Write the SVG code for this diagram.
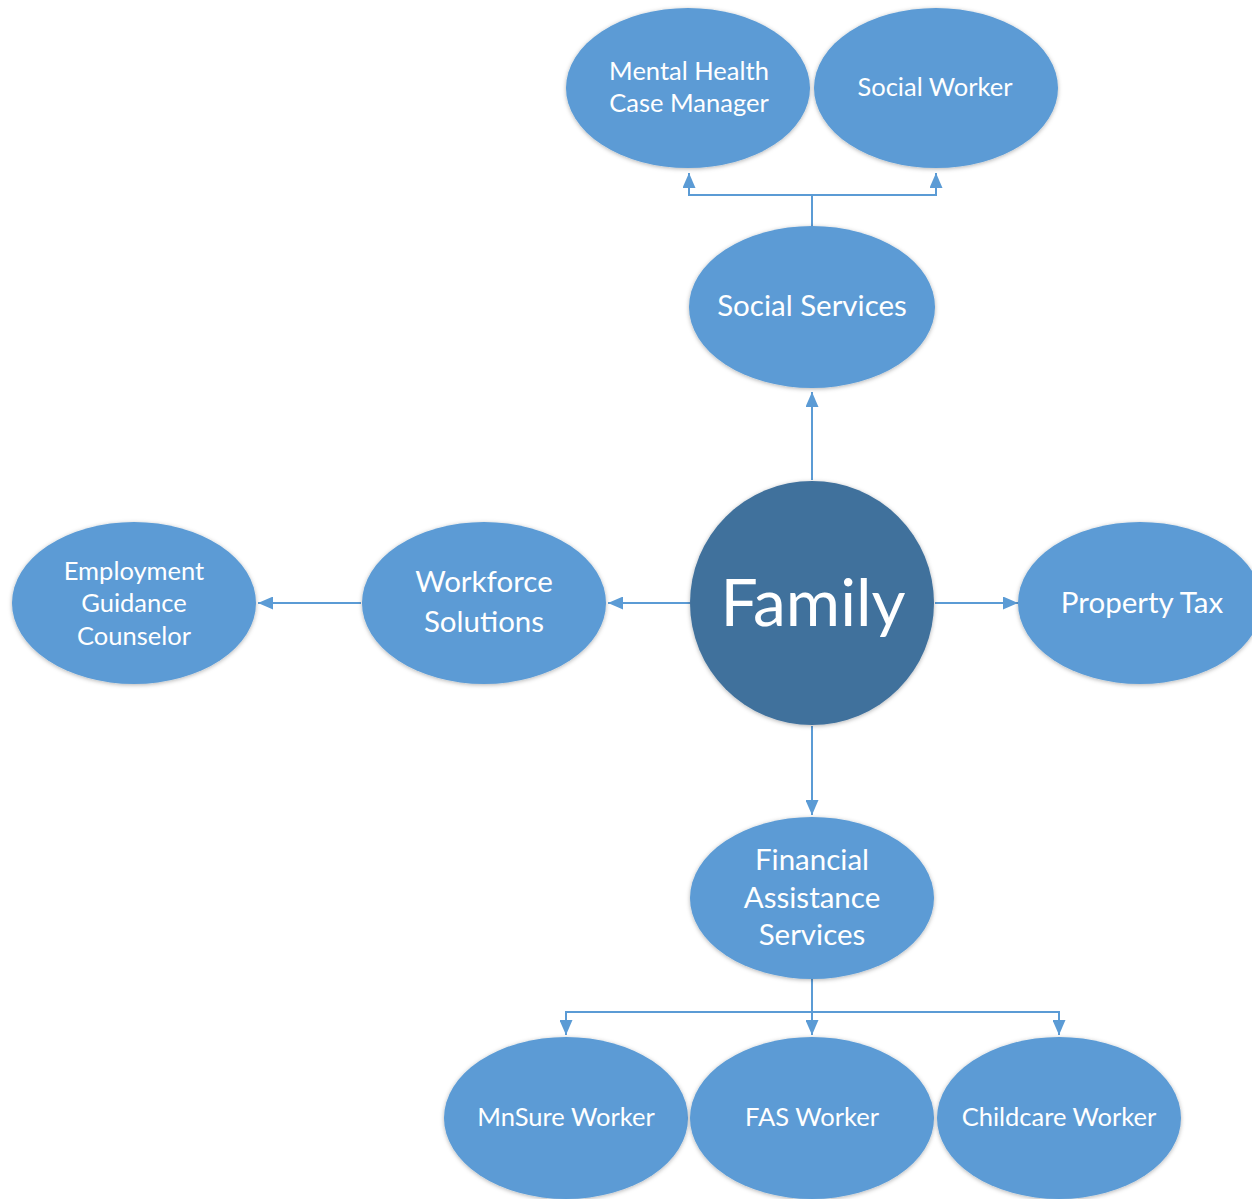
<svg xmlns="http://www.w3.org/2000/svg" width="1252" height="1199" viewBox="0 0 1252 1199">
<style>
.n{fill:#5b9bd5;filter:url(#sh)}
.c{fill:#41719c;filter:url(#sh)}
.t{fill:#ffffff;font-family:Lato,"Liberation Sans",sans-serif;text-anchor:middle}
.s23{font-size:25.5px}
.s27{font-size:29.5px}
.e{stroke:#5b9bd5;stroke-width:2;fill:none}
</style>
<defs>
<filter id="sh" x="-10%" y="-10%" width="120%" height="120%">
<feDropShadow dx="0" dy="1" stdDeviation="2" flood-color="#000" flood-opacity="0.3"/>
</filter>
<marker id="a" viewBox="0 0 15 13" refX="15" refY="6.5" markerWidth="15" markerHeight="13" markerUnits="userSpaceOnUse" orient="auto">
<path d="M0,0 L15,6.5 L0,13 Z" fill="#5b9bd5"/>
</marker>
</defs>
<rect width="1252" height="1199" fill="#fff"/>
<g id="connectors">
<path class="e" d="M812,227 V195 H689 V173" marker-end="url(#a)"/>
<path class="e" d="M812,195 H936 V173" marker-end="url(#a)"/>
<path class="e" d="M812,480 V392" marker-end="url(#a)"/>
<path class="e" d="M690,603 H608" marker-end="url(#a)"/>
<path class="e" d="M361,603 H258" marker-end="url(#a)"/>
<path class="e" d="M935,603 H1018" marker-end="url(#a)"/>
<path class="e" d="M812,726 V815" marker-end="url(#a)"/>
<path class="e" d="M812,979 V1035" marker-end="url(#a)"/>
<path class="e" d="M812,1012 H566 V1035" marker-end="url(#a)"/>
<path class="e" d="M812,1012 H1059 V1035" marker-end="url(#a)"/>
</g>
<g id="mental-health">
<ellipse class="n" cx="688" cy="88" rx="122" ry="80"/>
<text class="t s23" x="689" y="80">Mental Health</text>
<text class="t s23" x="689" y="112">Case Manager</text>
</g>
<g id="social-worker">
<ellipse class="n" cx="936" cy="88" rx="122" ry="80"/>
<text class="t s23" x="935" y="96">Social Worker</text>
</g>
<g id="social-services">
<ellipse class="n" cx="812" cy="307" rx="123" ry="81"/>
<text class="t s27" x="812" y="316">Social Services</text>
</g>
<g id="family">
<circle class="c" cx="812" cy="603" r="122"/>
<text class="t" style="font-size:66px" x="813" y="626">Family</text>
</g>
<g id="workforce">
<ellipse class="n" cx="484" cy="603" rx="122" ry="81"/>
<text class="t s27" x="484" y="592">Workforce</text>
<text class="t s27" x="484" y="632">Solutions</text>
</g>
<g id="employment">
<ellipse class="n" cx="134" cy="603" rx="122" ry="81"/>
<text class="t s23" x="134" y="580">Employment</text>
<text class="t s23" x="134" y="612">Guidance</text>
<text class="t s23" x="134" y="645">Counselor</text>
</g>
<g id="property-tax">
<ellipse class="n" cx="1140" cy="603" rx="122" ry="81"/>
<text class="t s27" x="1142" y="613">Property Tax</text>
</g>
<g id="financial">
<ellipse class="n" cx="812" cy="898" rx="122" ry="81"/>
<text class="t s27" x="812" y="870">Financial</text>
<text class="t s27" x="812" y="908">Assistance</text>
<text class="t s27" x="812" y="945">Services</text>
</g>
<g id="mnsure">
<ellipse class="n" cx="566" cy="1118" rx="122" ry="81"/>
<text class="t s23" x="566" y="1126">MnSure Worker</text>
</g>
<g id="fas">
<ellipse class="n" cx="812" cy="1118" rx="122" ry="81"/>
<text class="t s23" x="812" y="1126">FAS Worker</text>
</g>
<g id="childcare">
<ellipse class="n" cx="1059" cy="1118" rx="122" ry="81"/>
<text class="t s23" x="1059" y="1126">Childcare Worker</text>
</g>
</svg>
